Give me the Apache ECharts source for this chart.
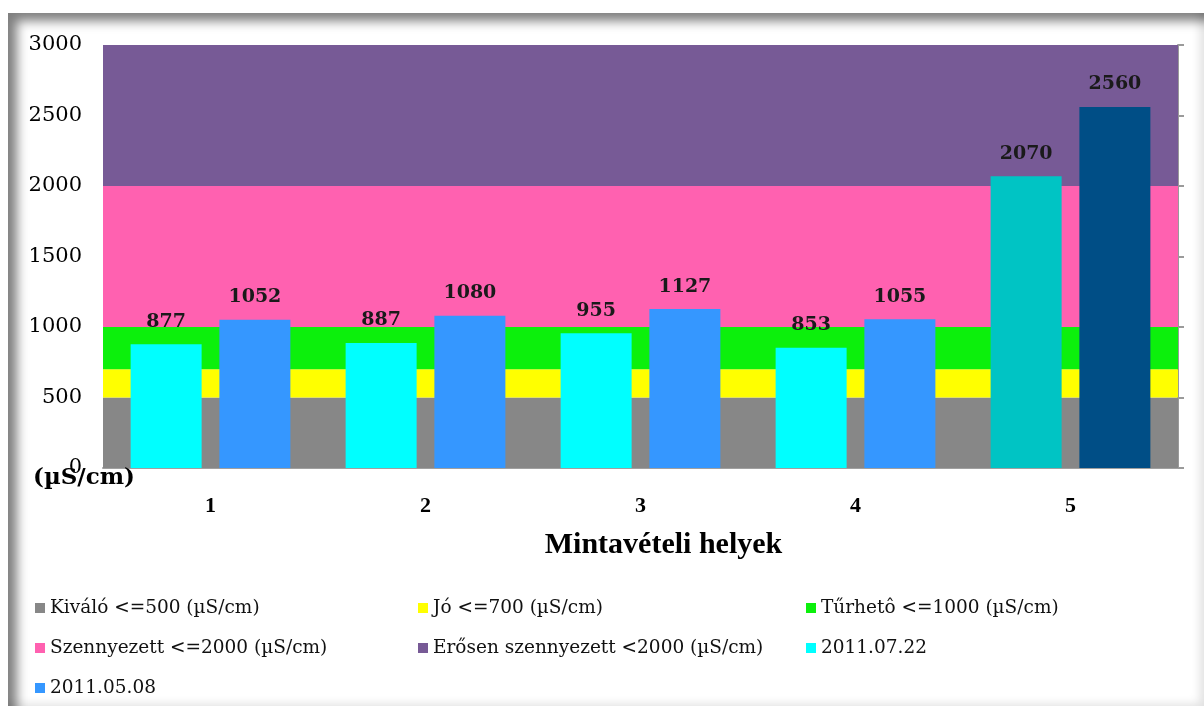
<!DOCTYPE html>
<html>
<head>
<meta charset="utf-8">
<script src="https://cdn.jsdelivr.net/npm/echarts@6/dist/echarts.min.js"></script>
<style>
  html, body { margin: 0; padding: 0; background: #fff; }
  #frame {
    position: absolute; left: 8px; top: 13px; width: 1196px; height: 693px;
    box-shadow: inset 12px 11px 11px -3px rgba(0,0,0,0.5), inset -10px -8px 10px -6px rgba(0,0,0,0.12);
  }
  #chart { position: absolute; left: 0; top: 0; width: 1204px; height: 706px; }
</style>
</head>
<body>
<div id="frame"></div>
<div id="chart"></div>
<script>
// Sampling sites
const sites = ['1', '2', '3', '4', '5'];

// Conductivity measurements (µS/cm)
const july22 = [877, 887, 955, 853, 2070];
const may08 = [1052, 1080, 1127, 1055, 2560];

// Quality class bands: upper limits and their names
const bandNames = ['Kiváló <=500 (µS/cm)', 'Jó <=700 (µS/cm)', 'Tűrhetô <=1000 (µS/cm)',
                   'Szennyezett <=2000 (µS/cm)', 'Erősen szennyezett <2000 (µS/cm)'];
const bandLimits = [500, 700, 1000, 2000, 3000];
const bandColors = ['#878787', '#FFFF00', '#0CF00C', '#FF61B0', '#775A96'];

const yTicks = [0, 500, 1000, 1500, 2000, 2500, 3000];

const serif = '"DejaVu Serif", "Liberation Serif", serif';
const times = '"Liberation Serif", serif';

// Band series: each band's thickness stacked from the limits
const bandSeries = bandNames.map((name, i) => {
  const lower = i === 0 ? 0 : bandLimits[i - 1];
  const thickness = bandLimits[i] - lower;
  return {
    name: name,
    type: 'bar',
    stack: 'bands',
    xAxisIndex: 1,
    barWidth: '100%',
    barCategoryGap: 0,
    silent: true,
    z: 1,
    itemStyle: { color: bandColors[i] },
    data: sites.map(() => thickness)
  };
});

// The last site is shown in deeper tones
const highlight = { july: '#00C4C4', may: '#004E86' };
const labelStyle = {
  show: true, position: 'top', distance: 13,
  fontFamily: serif, fontWeight: 'bold', fontSize: 19, color: '#1a1a1a'
};

const legendBase = {
  orient: 'vertical', top: 598, padding: 0, itemGap: 20, itemWidth: 10, itemHeight: 10, icon: 'rect',
  textStyle: { fontFamily: serif, fontSize: 18.5, color: '#111', lineHeight: 20 }
};

const chart = echarts.init(document.getElementById('chart'));
chart.setOption({
  backgroundColor: 'transparent',
  animation: false,
  grid: { left: 103, right: 26, top: 45, bottom: 238 },
  xAxis: [
    {
      type: 'category', data: sites, offset: 7,
      axisLine: { lineStyle: { color: '#A0A0A0', width: 2 } },
      axisTick: { show: false },
      axisLabel: { fontFamily: times, fontWeight: 'bold', fontSize: 22, color: '#000', margin: 20 },
      name: 'Mintavételi helyek', nameLocation: 'middle', nameGap: 55,
      nameTextStyle: { fontFamily: times, fontWeight: 'bold', fontSize: 30, color: '#000', padding: [0, 0, 0, 46] }
    },
    { type: 'category', data: sites, show: false }
  ],
  yAxis: [
    {
      type: 'value', min: yTicks[0], max: yTicks[yTicks.length - 1], interval: 500,
      axisLine: { show: false }, axisTick: { show: false }, splitLine: { show: false },
      axisLabel: { fontFamily: serif, fontSize: 21, color: '#000', margin: 21, padding: [4, 0, 0, 0], formatter: v => String(v) }
    },
    {
      type: 'value', position: 'right', min: yTicks[0], max: yTicks[yTicks.length - 1], interval: 500,
      axisLine: { show: true, lineStyle: { color: '#9A9A9A', width: 2 } },
      axisTick: { show: true, length: 6, lineStyle: { color: '#9A9A9A', width: 2 } },
      axisLabel: { show: false }, splitLine: { show: false }
    }
  ],
  legend: [
    Object.assign({}, legendBase, { left: 35, data: [bandNames[0], bandNames[3], '2011.05.08'] }),
    Object.assign({}, legendBase, { left: 418, data: [bandNames[1], bandNames[4]] }),
    Object.assign({}, legendBase, { left: 806, data: [bandNames[2], '2011.07.22'] })
  ],
  graphic: [
    {
      type: 'text', left: 33, top: 467, z: 100,
      style: { text: '(µS/cm)', font: 'bold 23px "DejaVu Serif", serif', fill: '#000' }
    }
  ],
  series: bandSeries.concat([
    {
      name: '2011.07.22', type: 'bar', xAxisIndex: 0, barWidth: 71, barGap: '25%', z: 5,
      itemStyle: { color: '#00FFFF' }, label: labelStyle,
      data: july22.map((v, i) => i === sites.length - 1 ? { value: v, itemStyle: { color: highlight.july } } : v)
    },
    {
      name: '2011.05.08', type: 'bar', xAxisIndex: 0, barWidth: 71, barGap: '25%', z: 5,
      itemStyle: { color: '#3597FF' }, label: labelStyle,
      data: may08.map((v, i) => i === sites.length - 1 ? { value: v, itemStyle: { color: highlight.may } } : v)
    }
  ])
});
</script>
</body>
</html>
